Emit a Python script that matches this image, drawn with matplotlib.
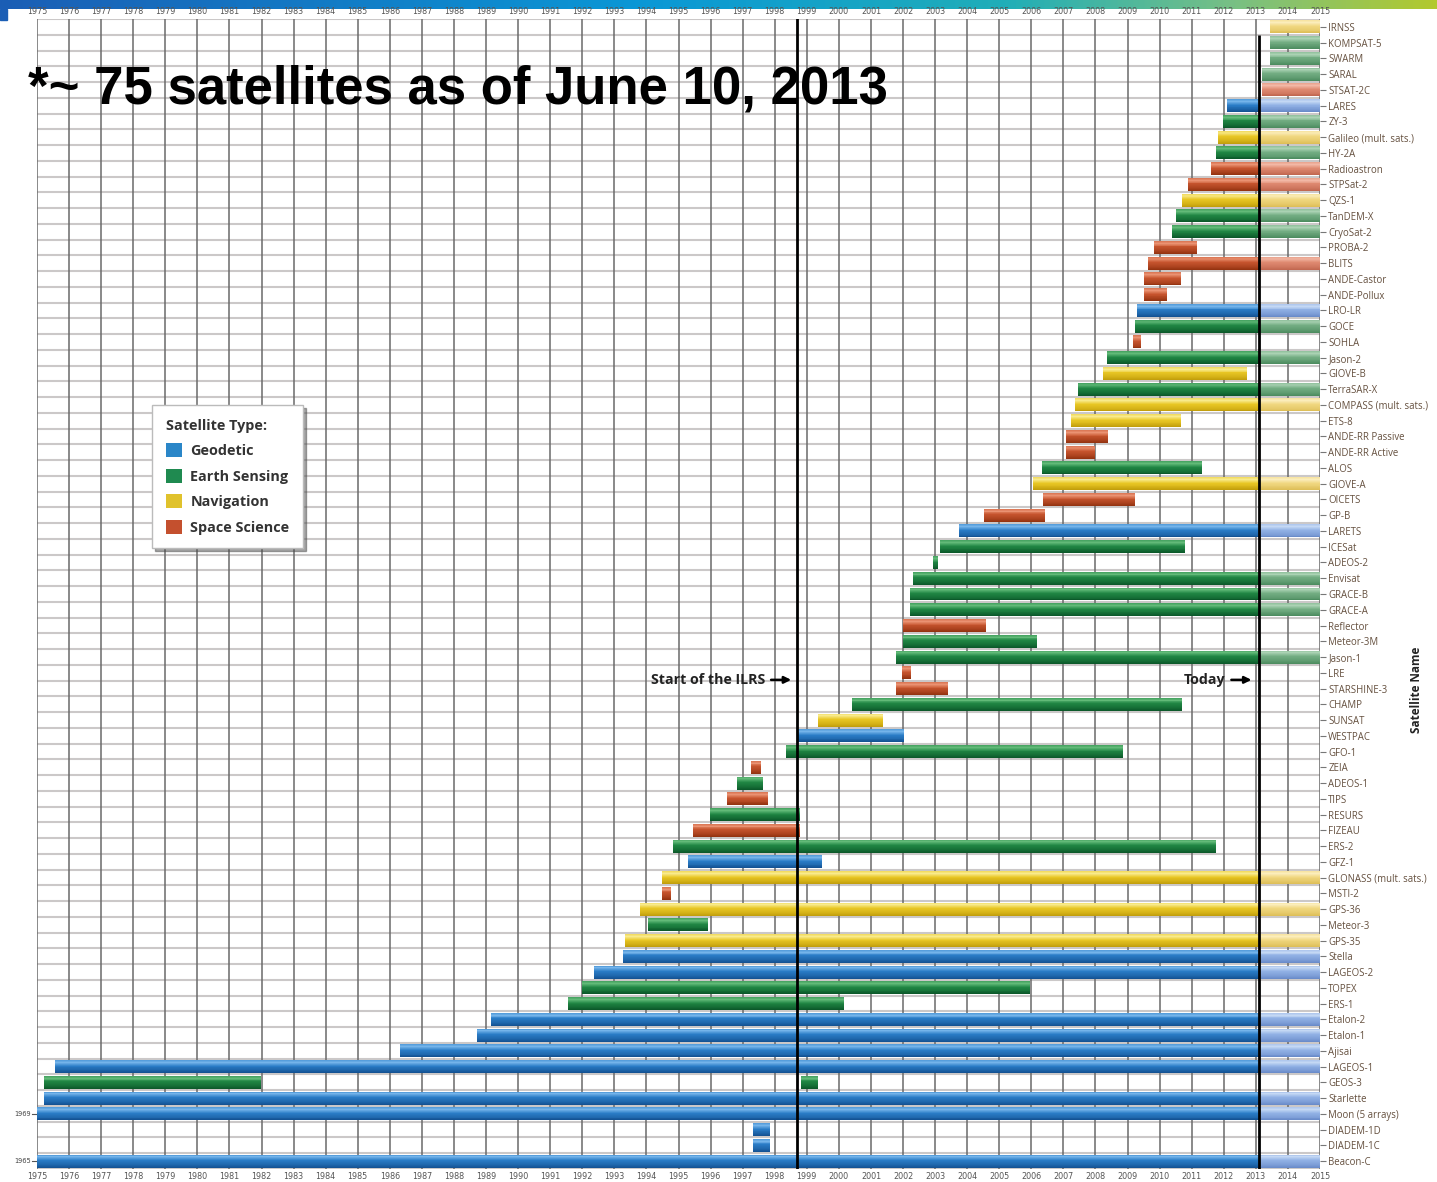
import matplotlib
matplotlib.use("Agg")
import matplotlib.pyplot as plt
import matplotlib.transforms as mtransforms
from matplotlib.patches import Patch, Rectangle
from matplotlib.colors import LinearSegmentedColormap, to_rgb
import numpy as np

# ---------------- data ----------------
sat_names = [
    "IRNSS", "KOMPSAT-5", "SWARM", "SARAL", "STSAT-2C", "LARES", "ZY-3",
    "Galileo (mult. sats.)", "HY-2A", "Radioastron", "STPSat-2", "QZS-1",
    "TanDEM-X", "CryoSat-2", "PROBA-2", "BLITS", "ANDE-Castor", "ANDE-Pollux",
    "LRO-LR", "GOCE", "SOHLA", "Jason-2", "GIOVE-B", "TerraSAR-X",
    "COMPASS (mult. sats.)", "ETS-8", "ANDE-RR Passive", "ANDE-RR Active",
    "ALOS", "GIOVE-A", "OICETS", "GP-B", "LARETS", "ICESat", "ADEOS-2",
    "Envisat", "GRACE-B", "GRACE-A", "Reflector", "Meteor-3M", "Jason-1",
    "LRE", "STARSHINE-3", "CHAMP", "SUNSAT", "WESTPAC", "GFO-1", "ZEIA",
    "ADEOS-1", "TIPS", "RESURS", "FIZEAU", "ERS-2", "GFZ-1",
    "GLONASS (mult. sats.)", "MSTI-2", "GPS-36", "Meteor-3", "GPS-35",
    "Stella", "LAGEOS-2", "TOPEX", "ERS-1", "Etalon-2", "Etalon-1", "Ajisai",
    "LAGEOS-1", "GEOS-3", "Starlette", "Moon (5 arrays)", "DIADEM-1D",
    "DIADEM-1C", "Beacon-C",
]
# G = Geodetic, E = Earth Sensing, N = Navigation, S = Space Science
sat_types = [
    "N", "E", "E", "E", "S", "G", "E",
    "N", "E", "S", "S", "N",
    "E", "E", "S", "S", "S", "S",
    "G", "E", "S", "E", "N", "E",
    "N", "N", "S", "S",
    "E", "N", "S", "S", "G", "E", "E",
    "E", "E", "E", "S", "E", "E",
    "S", "S", "E", "N", "G", "E", "S",
    "E", "S", "E", "S", "E", "G",
    "N", "S", "N", "E", "N",
    "G", "G", "E", "E", "G", "G", "G",
    "G", "E", "G", "G", "G",
    "G", "G",
]
sat_start = [
    2013.44, 2013.44, 2013.44, 2013.2, 2013.2, 2012.09, 2011.98,
    2011.83, 2011.77, 2011.6, 2010.87, 2010.71,
    2010.5, 2010.4, 2009.83, 2009.65, 2009.52, 2009.52,
    2009.31, 2009.22, 2009.17, 2008.36, 2008.22, 2007.46,
    2007.36, 2007.25, 2007.08, 2007.08,
    2006.32, 2006.04, 2006.35, 2004.53, 2003.75, 2003.15, 2002.93,
    2002.3, 2002.23, 2002.23, 2002.0, 2002.0, 2001.78,
    2001.98, 2001.78, 2000.42, 1999.36, 1998.68, 1998.35, 1997.26,
    1996.81, 1996.5, 1995.98, 1995.46, 1994.82, 1995.3,
    1994.47, 1994.5, 1993.8, 1994.05, 1993.33,
    1993.27, 1992.36, 1991.99, 1991.55, 1989.15, 1988.72, 1986.32,
    1975.56, 1975.22, 1975.22, 1969.0, 1997.32,
    1997.32, 1965.0,
]
sat_end = [
    2015.0, 2015.0, 2015.0, 2015.0, 2015.0, 2015.0, 2015.0,
    2015.0, 2015.0, 2015.0, 2015.0, 2015.0,
    2015.0, 2015.0, 2011.18, 2015.0, 2010.66, 2010.23,
    2015.0, 2015.0, 2009.41, 2015.0, 2012.71, 2015.0,
    2015.0, 2010.66, 2008.4, 2007.98,
    2011.31, 2015.0, 2009.22, 2006.42, 2015.0, 2010.79, 2003.08,
    2015.0, 2015.0, 2015.0, 2004.6, 2006.18, 2015.0,
    2002.26, 2003.41, 2010.71, 2001.38, 2002.03, 2008.85, 1997.57,
    1997.64, 1997.8, 1998.78, 1998.78, 2011.75, 1999.46,
    2015.0, 1994.77, 2015.0, 1995.92, 2015.0,
    2015.0, 2015.0, 2005.95, 2000.16, 2015.0, 2015.0, 2015.0,
    2015.0, 1981.98, 2015.0, 2015.0, 1997.85,
    1997.85, 2015.0,
]
# extra tracking period (GEOS-3 second segment)
extra_name = ["GEOS-3"]
extra_start = [1998.82]
extra_end = [1999.35]

years = list(range(1975, 2016))
ILRS_START = 1998.7
TODAY = 2013.1
left_start_labels = {"Moon (5 arrays)": "1969", "Beacon-C": "1965"}

type_labels = {"G": "Geodetic", "E": "Earth Sensing", "N": "Navigation", "S": "Space Science"}

# ---------------- styles ----------------
pal_dark = {
    "G": ("#124f90", "#2a7cc6", "#74b4ea"),
    "E": ("#0a5628", "#208644", "#62ba78"),
    "N": ("#c09c0a", "#e8c624", "#f8ea8c"),
    "S": ("#91310f", "#c6542e", "#ea9272"),
}
pal_light = {
    "G": ("#6789c8", "#91b1e5", "#c4d8f4"),
    "E": ("#4a8a5d", "#73ad83", "#aad2b3"),
    "N": ("#dcbd55", "#f0d780", "#fbedbb"),
    "S": ("#c0654e", "#df8a71", "#f2b8a6"),
}
legend_colors = {"G": "#2a86c8", "E": "#1f8a50", "N": "#e0c22c", "S": "#c4502e"}

W, H = 1437, 1182
fig = plt.figure(figsize=(W / 100, H / 100), dpi=100)
fig.patch.set_facecolor("white")

# header gradient bar
hax = fig.add_axes([0, 1 - 9 / H, 1, 9 / H])
cmap = LinearSegmentedColormap.from_list(
    "hdr", [(0, "#1b5eb5"), (0.45, "#0a98d6"), (0.7, "#20aeb8"), (0.86, "#78c084"), (1.0, "#b2c92e")])
hax.imshow(np.linspace(0, 1, 512)[None, :], aspect="auto", cmap=cmap, extent=[0, 1, 0, 1])
hax.axis("off")
fig.patches.append(Rectangle((0, 1 - 20 / H), 7 / W, 11 / H, transform=fig.transFigure,
                             color="#1b5eb5", zorder=5))

ax = fig.add_axes([37 / W, 1 - 1169 / H, (1320 - 37) / W, (1169 - 19) / H])
n = len(sat_names)
ax.set_xlim(1975, 2015)
ax.set_ylim(n - 0.5, -0.5)

# grid
for yv in np.arange(-0.5, n, 1.0):
    ax.axhline(yv, color="#cbc8c8", lw=1.5, zorder=1)
for x in years:
    ax.axvline(x, color="#6a6a6a", lw=1.1, zorder=1.5)

# collect bar pieces
pieces = []  # (row, start, end, palette)


def add_seg(row, s, e, t):
    if s < TODAY:
        pieces.append((row, s, min(e, TODAY), pal_dark[t]))
    if e > TODAY:
        pieces.append((row, max(s, TODAY), e, pal_light[t]))


for i, (t, s, e) in enumerate(zip(sat_types, sat_start, sat_end)):
    add_seg(i, s, e, t)
for nm, s, e in zip(extra_name, extra_start, extra_end):
    i = sat_names.index(nm)
    add_seg(i, s, e, sat_types[i])

# cylinder-like shading: vertical colour profile from top (t=0) to bottom (t=1)
BAR_H = 0.82
NSTRIP = 14
prof_t = [0.0, 0.18, 0.45, 0.75, 1.0]


def shade(pal, t):
    dark, base, hi = [np.array(to_rgb(c)) for c in pal]
    stops = [0.5 * (hi + base), hi, base, 0.55 * base + 0.45 * dark, dark]
    for k in range(len(prof_t) - 1):
        if prof_t[k] <= t <= prof_t[k + 1]:
            f = (t - prof_t[k]) / (prof_t[k + 1] - prof_t[k])
            return tuple((1 - f) * stops[k] + f * stops[k + 1])
    return tuple(stops[-1])


rows = np.array([p[0] for p in pieces], dtype=float)
lefts = np.array([p[1] for p in pieces])
widths = np.array([p[2] - p[1] for p in pieces])
hstrip = BAR_H / NSTRIP
for k in range(NSTRIP):
    tc = (k + 0.5) / NSTRIP
    yc = rows - BAR_H / 2 + (k + 0.5) * hstrip
    cols = [shade(p[3], tc) for p in pieces]
    ax.barh(yc, widths, left=lefts, height=hstrip * 1.08, color=cols, lw=0, zorder=3)

# vertical reference lines
ax.axvline(ILRS_START, color="black", lw=2.0, zorder=4)
ax.plot([TODAY, TODAY], [0.5, n - 0.5], color="black", lw=2.0, zorder=4, solid_capstyle="butt")

ann_y = sat_names.index("LRE") + 0.45
ax.annotate("", xy=(ILRS_START - 0.1, ann_y), xytext=(ILRS_START - 0.9, ann_y),
            arrowprops=dict(arrowstyle="-|>", color="black", lw=1.8, mutation_scale=10), zorder=5)
ax.text(ILRS_START - 1.0, ann_y, "Start of the ILRS", ha="right", va="center",
        fontsize=10.2, fontweight="bold", family="Open Sans", color="#222222", zorder=5)
ax.annotate("", xy=(TODAY - 0.15, ann_y), xytext=(TODAY - 0.95, ann_y),
            arrowprops=dict(arrowstyle="-|>", color="black", lw=1.8, mutation_scale=10), zorder=5)
ax.text(TODAY - 1.05, ann_y, "Today", ha="right", va="center",
        fontsize=10.2, fontweight="bold", family="Open Sans", color="#222222", zorder=5)

# axes styling
for sp in ax.spines.values():
    sp.set_visible(False)
ax.set_xticks(years)
ax.set_xticklabels([str(y) for y in years])
ax.tick_params(axis="x", top=True, labeltop=True, bottom=True, labelbottom=True,
               length=0, pad=2.5, labelsize=5.8, labelcolor="#555555")
ax.yaxis.tick_right()
ax.set_yticks(range(n))
ax.set_yticklabels(sat_names)
ax.tick_params(axis="y", right=True, left=False, length=4, width=0.8, color="#777777",
               pad=2, labelsize=6.9, labelcolor="#65503f")
for lab in ax.get_yticklabels():
    lab.set_family("Open Sans")

# left start-year markers
trans = mtransforms.blended_transform_factory(ax.transAxes, ax.transData)
for nm, txt in left_start_labels.items():
    r = sat_names.index(nm)
    ax.text(-0.0045, r, txt, transform=trans, ha="right", va="center",
            fontsize=4.8, color="#444444", clip_on=False)
    ax.plot([-0.004, 0], [r, r], transform=trans, color="#555555", lw=0.8, clip_on=False)

fig.text(1417 / W, 1 - 690 / H, "Satellite Name", rotation=90, ha="center", va="center",
         fontsize=8.5, fontweight="bold", family="Open Sans", color="#222222")

# legend
handles = [Patch(facecolor=legend_colors[k], edgecolor="none", label=v) for k, v in type_labels.items()]
leg = fig.legend(handles=handles, title="Satellite Type:", loc="upper left",
                 bbox_to_anchor=(152 / W, 1 - 405 / H), borderaxespad=0.0, frameon=True, shadow=True,
                 fontsize=10.4, title_fontsize=10.4, handlelength=1.15, handleheight=1.15,
                 handletextpad=0.55, labelspacing=0.72, borderpad=0.95, alignment="left",
                 fancybox=False, edgecolor="#bbbbbb", framealpha=1)
for t in leg.get_texts():
    t.set_fontweight("bold")
    t.set_family("Open Sans")
    t.set_color("#333333")
leg.get_title().set_fontweight("bold")
leg.get_title().set_family("Open Sans")
leg.get_title().set_color("#333333")
leg.set_zorder(10)

# headline
fig.text(28 / W, 1 - 103 / H, "*~ 75 satellites as of June 10, 2013", ha="left", va="baseline",
         fontsize=38, fontweight="bold", family="Liberation Sans", color="black", zorder=20)

fig.savefig("out.png", dpi=100, facecolor="white")
